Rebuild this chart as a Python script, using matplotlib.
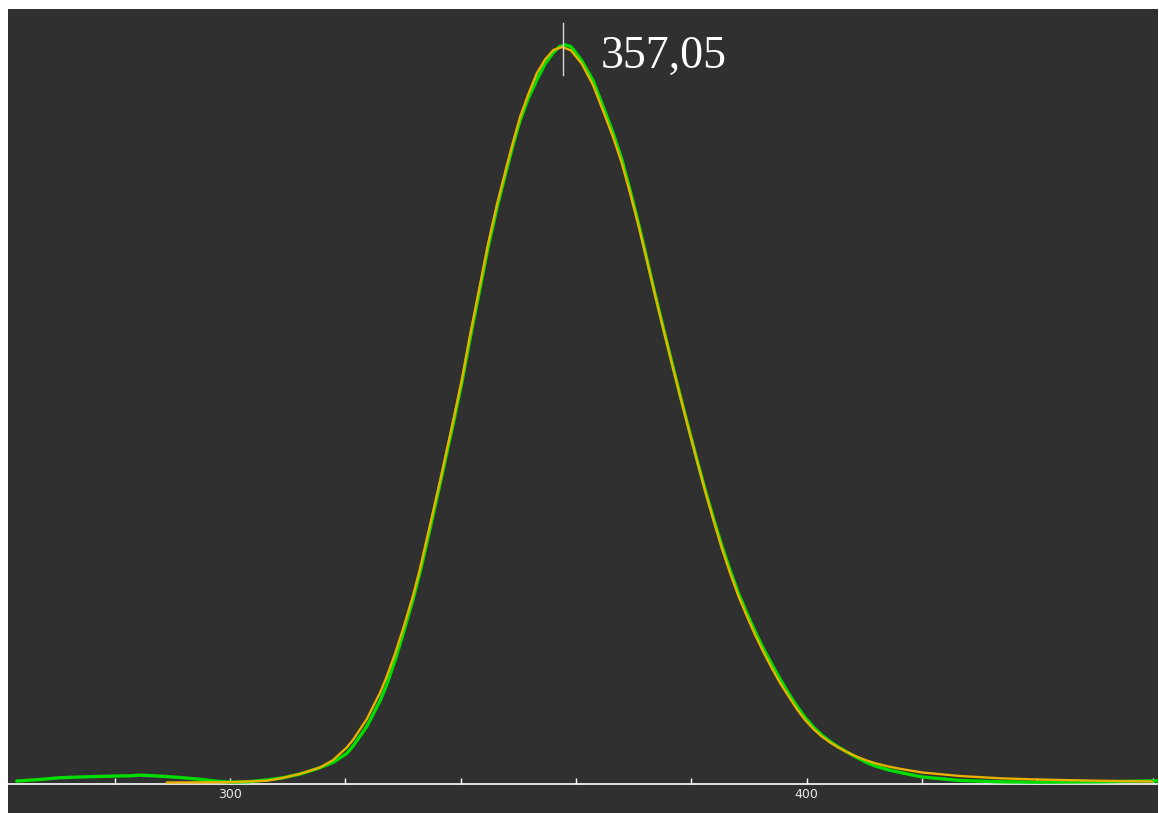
import matplotlib
matplotlib.use("Agg")
import matplotlib.pyplot as plt
from matplotlib.patches import Rectangle

# ---- data (x = wavelength, y = relative intensity %) ----
fit_x = [289.02, 300.0, 306.36, 308.67, 312.14, 315.61, 317.86, 320.24, 321.38, 323.70,
         326.01, 327.17, 328.61, 330.05, 331.73, 332.95, 334.68, 336.41, 338.72, 340.18,
         341.62, 343.00, 344.74, 346.30, 347.98, 349.07, 350.29, 351.67, 353.18, 354.62,
         356.06, 357.62, 359.13, 360.98, 362.94, 365.02, 366.41, 367.92, 369.36, 370.80,
         372.26, 373.69, 375.13, 376.59, 378.03, 379.47, 380.93, 382.37, 383.81, 385.26,
         386.70, 388.14, 389.60, 391.04, 392.47, 393.93, 395.37, 396.81, 398.27, 399.71,
         401.15, 402.61, 404.05, 405.48, 406.94, 408.38, 410.41, 411.85, 414.0, 416.18,
         420.0, 426.58, 433.52, 439.93, 450.86, 459.88]
fit_y = [0.0, 0.04, 0.24, 0.54, 1.18, 2.04, 3.05, 4.75, 5.85, 8.60,
         12.20, 14.40, 17.50, 21.00, 25.40, 29.10, 35.00, 40.98, 49.27, 54.70,
         60.82, 66.25, 73.19, 78.62, 83.79, 87.05, 90.45, 93.44, 96.36, 98.26,
         99.55, 99.96, 99.48, 97.69, 94.80, 90.58, 87.73, 84.19, 80.12, 75.77,
         71.01, 66.25, 61.63, 57.01, 52.53, 48.18, 43.83, 39.62, 35.68, 31.87,
         28.47, 25.35, 22.63, 20.05, 17.74, 15.56, 13.52, 11.76, 9.99, 8.49,
         7.27, 6.25, 5.44, 4.76, 4.15, 3.60, 2.99, 2.62, 2.20, 1.86,
         1.36, 0.88, 0.57, 0.41, 0.23, 0.14]

data_x = [263.0, 267.1, 270.52, 274.86, 280.06, 282.66, 284.39, 286.13, 288.73, 291.33,
          294.80, 297.40, 300.0, 303.12, 306.36, 309.19, 312.14, 315.03, 317.91, 320.24,
          321.38, 323.70, 326.01, 327.17, 328.61, 330.05, 331.73, 332.95, 334.68, 336.41,
          338.72, 340.18, 341.62, 343.00, 344.74, 346.30, 347.98, 349.07, 350.29, 351.67,
          353.18, 354.62, 356.06, 357.04, 358.08, 359.13, 360.98, 362.94, 365.02, 366.41,
          367.92, 369.36, 370.80, 372.26, 373.69, 375.13, 376.59, 378.03, 379.47, 380.93,
          382.37, 383.81, 385.26, 386.70, 388.14, 389.60, 391.04, 392.47, 393.93, 395.37,
          396.81, 398.27, 399.71, 401.15, 402.61, 404.05, 405.48, 406.94, 408.38, 410.41,
          411.85, 414.0, 416.18, 420.0, 426.58, 433.52, 439.93, 450.86, 461.09]
data_y = [0.20, 0.41, 0.65, 0.77, 0.88, 0.91, 1.00, 0.94, 0.82, 0.68,
          0.43, 0.20, 0.05, 0.10, 0.34, 0.64, 1.15, 1.85, 2.75, 3.95,
          5.00, 7.60, 11.10, 13.30, 16.60, 20.30, 24.90, 28.60, 34.50, 40.57,
          48.86, 54.30, 60.34, 65.78, 72.71, 78.15, 83.38, 86.64, 89.97, 92.89,
          95.47, 97.66, 99.21, 99.96, 100.27, 100.0, 98.10, 95.41, 91.19, 88.27,
          84.73, 80.52, 76.05, 71.22, 66.39, 61.77, 57.15, 52.66, 48.31, 43.96,
          39.82, 35.94, 32.21, 28.88, 25.75, 23.04, 20.52, 18.21, 16.10, 14.07,
          12.16, 10.40, 8.83, 7.54, 6.45, 5.57, 4.82, 4.15, 3.53, 2.70,
          2.25, 1.75, 1.36, 0.75, 0.27, 0.10, 0.04, 0.10, 0.23]

peak_pos = 357.7
peak_label = "357,05"
major_ticks = [300, 400]
minor_ticks = [280, 320, 340, 360, 380, 420, 440, 460]

BG = "#303030"
W, H = 1159, 813

fig = plt.figure(figsize=(W / 100, H / 100), dpi=100)
fig.patch.set_facecolor("white")
# dark panel (leaves a thin white frame at top/left/right)
fig.patches.append(Rectangle((8 / W, 0), 1150 / W, (H - 9) / H,
                             transform=fig.transFigure, facecolor=BG,
                             edgecolor="none", zorder=-10))

ax = fig.add_axes([8 / W, (H - 784) / H, 1150 / W, (784 - 9) / H])
ax.set_zorder(5)
ax.set_facecolor(BG)

ax.plot(data_x, data_y, color="#00DD00", lw=2.4, solid_capstyle="round",
        solid_joinstyle="round", zorder=3)
ax.plot(fit_x, fit_y, color="#EAB000", lw=1.7, solid_capstyle="round",
        solid_joinstyle="round", zorder=4)

# peak marker
ax.plot([peak_pos, peak_pos], [96.2, 103.2], color="#D8D8D8", lw=1.0, zorder=5)
ax.text(364.2, 97.1, peak_label, family="Liberation Serif", fontsize=33,
        color="white", va="baseline", ha="left", zorder=6)

ax.set_xlim(261.5, 460.9)
ax.set_ylim(-0.204, 105.12)

for s in ["top", "left", "right"]:
    ax.spines[s].set_visible(False)
ax.spines["bottom"].set_color("white")
ax.spines["bottom"].set_linewidth(1.2)

ax.set_yticks([])
ax.set_xticks(major_ticks)
ax.set_xticks(minor_ticks, minor=True)
ax.tick_params(axis="x", which="both", direction="in", color="white",
               width=1.0, length=4.5)
ax.tick_params(axis="x", which="major", labelsize=9, labelcolor="#E6E6E6", pad=3)

fig.savefig("out.png", dpi=100, facecolor=fig.get_facecolor())
